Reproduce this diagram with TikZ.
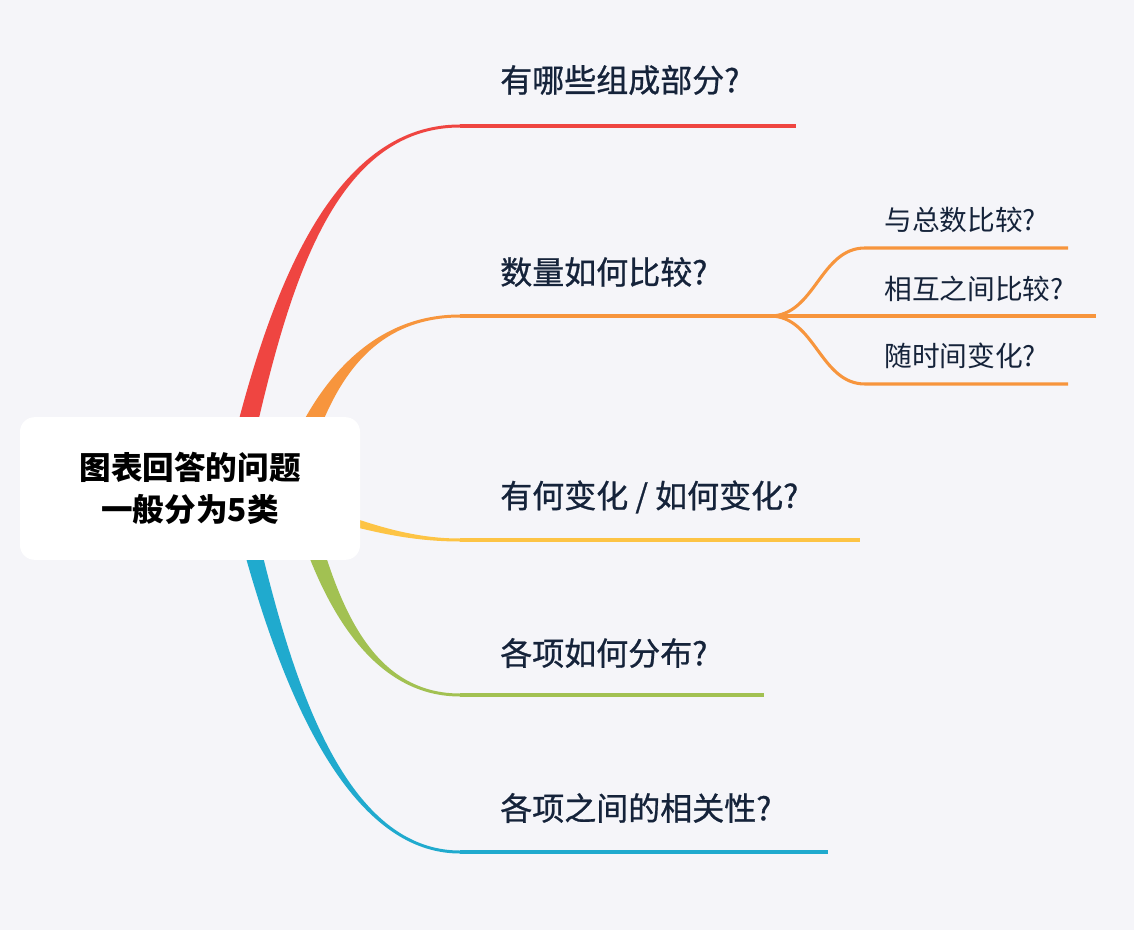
\documentclass[tikz,border=0pt]{standalone}
\usepackage{fontspec}
\setmainfont{Noto Sans CJK SC}
\newfontfamily\medfont{Noto Sans CJK SC}[FakeBold=0.8]
\usetikzlibrary{calc}

\definecolor{bgcol}{HTML}{F5F5F9}
\definecolor{txtcol}{HTML}{15233A}
\definecolor{cred}{HTML}{EF4541}
\definecolor{corange}{HTML}{F7953D}
\definecolor{cyellow}{HTML}{FDC445}
\definecolor{cgreen}{HTML}{A2C152}
\definecolor{cblue}{HTML}{20AACE}

% tapered curve: colour, start, control 1, control 2, end, half width at start, half width at end
\newcommand{\branch}[7]{%
  \fill[#1] ($(#2)+(#6)$) .. controls ($(#3)+(#6)$) and ($(#4)+(#7)$) .. ($(#5)+(#7)$)
    -- ($(#5)-(#7)$) .. controls ($(#4)-(#7)$) and ($(#3)-(#6)$) .. ($(#2)-(#6)$) -- cycle;}

\begin{document}
\begin{tikzpicture}[x=0.75pt, y=-0.75pt,
    rootbox/.style={fill=white, rounded corners=11pt, minimum width=255pt, minimum height=107pt,
      align=center, font=\fontsize{23.7}{32}\selectfont\bfseries, text=black},
    lbl/.style={anchor=west, inner sep=0pt, text=txtcol, font=\medfont\fontsize{24}{28}\selectfont},
    sublbl/.style={anchor=west, inner sep=0pt, text=txtcol, font=\fontsize{20.8}{24}\selectfont},
    stem/.style={line width=2.3pt}]
  % background and size
  \fill[bgcol] (0,0) rectangle (1134,930);
  \useasboundingbox (0,0) rectangle (1134,930);

  % ends of the curved parts
  \coordinate (b1) at (460,126);
  \coordinate (b2) at (460,316);
  \coordinate (b3) at (460,540);
  \coordinate (b4) at (460,695);
  \coordinate (b5) at (460,852);

  % tapered branches out of the root
  \branch{cred}{230,500}{268,330}{318,126}{b1}{-10.5,0}{0,-1.5}
  \branch{corange}{290,480}{310,420}{350,316}{b2}{-12,0}{0,-1.5}
  \branch{cyellow}{290,505}{340,515}{390,540}{b3}{0,-6}{0,-1.5}
  \branch{cgreen}{295,480}{320,580}{360,695}{b4}{-10,0}{0,1.5}
  \branch{cblue}{235,480}{265,600}{320,852}{b5}{-9.5,0}{0,1.5}

  % root
  \node[rootbox] (root) at (190,488.5) {图表回答的问题\\一般分为5类};

  % straight parts
  \coordinate (e1) at (796,126);
  \coordinate (fork) at (770,316);
  \coordinate (e3) at (860,540);
  \coordinate (e4) at (764,695);
  \coordinate (e5) at (828,852);
  \draw[stem, cred] (b1) -- (e1);
  \draw[stem, corange] (b2) -- (fork);
  \draw[stem, cyellow] (b3) -- (e3);
  \draw[stem, cgreen] (b4) -- (e4);
  \draw[stem, cblue] (b5) -- (e5);

  % sub branches of the second topic
  \coordinate (s1) at (865,248);
  \coordinate (s3) at (865,384);
  \draw[stem, corange] (fork) .. controls (815,316) and (820,248) .. (s1) -- (1068,248);
  \draw[stem, corange] (fork) -- (1096,316);
  \draw[stem, corange] (fork) .. controls (815,316) and (820,384) .. (s3) -- (1068,384);

  % labels
  \node[lbl] (q1) at (500,80) {有哪些组成部分?};
  \node[lbl] (q2) at (500,272) {数量如何比较?};
  \node[lbl] (q3) at (500,497) {有何变化 / 如何变化?};
  \node[lbl] (q4) at (500,653) {各项如何分布?};
  \node[lbl] (q5) at (500,808) {各项之间的相关性?};
  \node[sublbl] (q21) at (884,220) {与总数比较?};
  \node[sublbl] (q22) at (884,289) {相互之间比较?};
  \node[sublbl] (q23) at (884,356) {随时间变化?};
\end{tikzpicture}
\end{document}
